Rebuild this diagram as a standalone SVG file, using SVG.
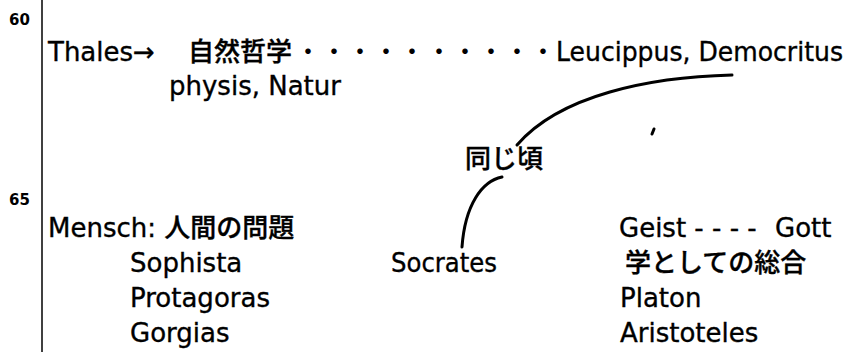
<svg xmlns="http://www.w3.org/2000/svg" width="856" height="352" viewBox="0 0 856 352">
  <style>
    .t { font-family: "DejaVu Sans", "Noto Sans CJK JP", sans-serif; font-size: 26px; font-weight: 500; fill: #000; stroke: #000; stroke-width: 0.35; }
    .d { font-family: "Noto Sans CJK JP", sans-serif; font-size: 26px; font-weight: 400; fill: #000; }
    .yr { font-family: "DejaVu Sans", sans-serif; font-size: 15px; font-weight: bold; fill: #000; }
    .axis { stroke: #000; stroke-width: 1.5; fill: none; }
    .conn { stroke: #000; stroke-width: 3; fill: none; stroke-linecap: round; }
  </style>
  <rect width="856" height="352" fill="#fff"/>
  <g id="timeline">
    <line class="axis" x1="42" y1="0" x2="42" y2="352"/>
    <text class="yr" x="9" y="25">60</text>
    <text class="yr" x="9" y="205">65</text>
  </g>
  <g id="thales"><text class="t" x="48" y="61">Thales→</text></g>
  <g id="shizen"><text class="t" x="188" y="61">自然哲学</text></g>
  <g id="dots"><text class="d" text-anchor="middle" x="308 334 360 386 412 439 465 491 517 543" y="61">・・・・・・・・・・</text></g>
  <g id="leucippus"><text class="t" x="556" y="61" textLength="287" lengthAdjust="spacingAndGlyphs">Leucippus, Democritus</text></g>
  <g id="physis"><text class="t" x="169" y="95">physis, Natur</text></g>
  <g id="onaji"><text class="t" x="465" y="168">同じ頃</text></g>
  <g id="mensch"><text class="t" x="48" y="237">Mensch: 人間の問題</text></g>
  <g id="sophista"><text class="t" x="130" y="272">Sophista</text></g>
  <g id="protagoras"><text class="t" x="130" y="307">Protagoras</text></g>
  <g id="gorgias"><text class="t" x="130" y="342">Gorgias</text></g>
  <g id="socrates"><text class="t" x="391" y="272" textLength="106" lengthAdjust="spacingAndGlyphs">Socrates</text></g>
  <g id="geist"><text class="t" x="619" y="237">Geist - - - - <tspan x="775">Gott</tspan></text></g>
  <g id="sougou"><text class="t" x="625" y="272">学としての総合</text></g>
  <g id="platon"><text class="t" x="620" y="307">Platon</text></g>
  <g id="aristoteles"><text class="t" x="620" y="342">Aristoteles</text></g>
  <g id="connectors">
    <path class="conn" d="M732,75 C650,77 560,95 517,145"/>
    <path class="conn" d="M502,177 C482,181 465,205 462,247"/>
    <line class="conn" stroke-width="2" x1="652" y1="134" x2="654" y2="129"/>
  </g>
</svg>
